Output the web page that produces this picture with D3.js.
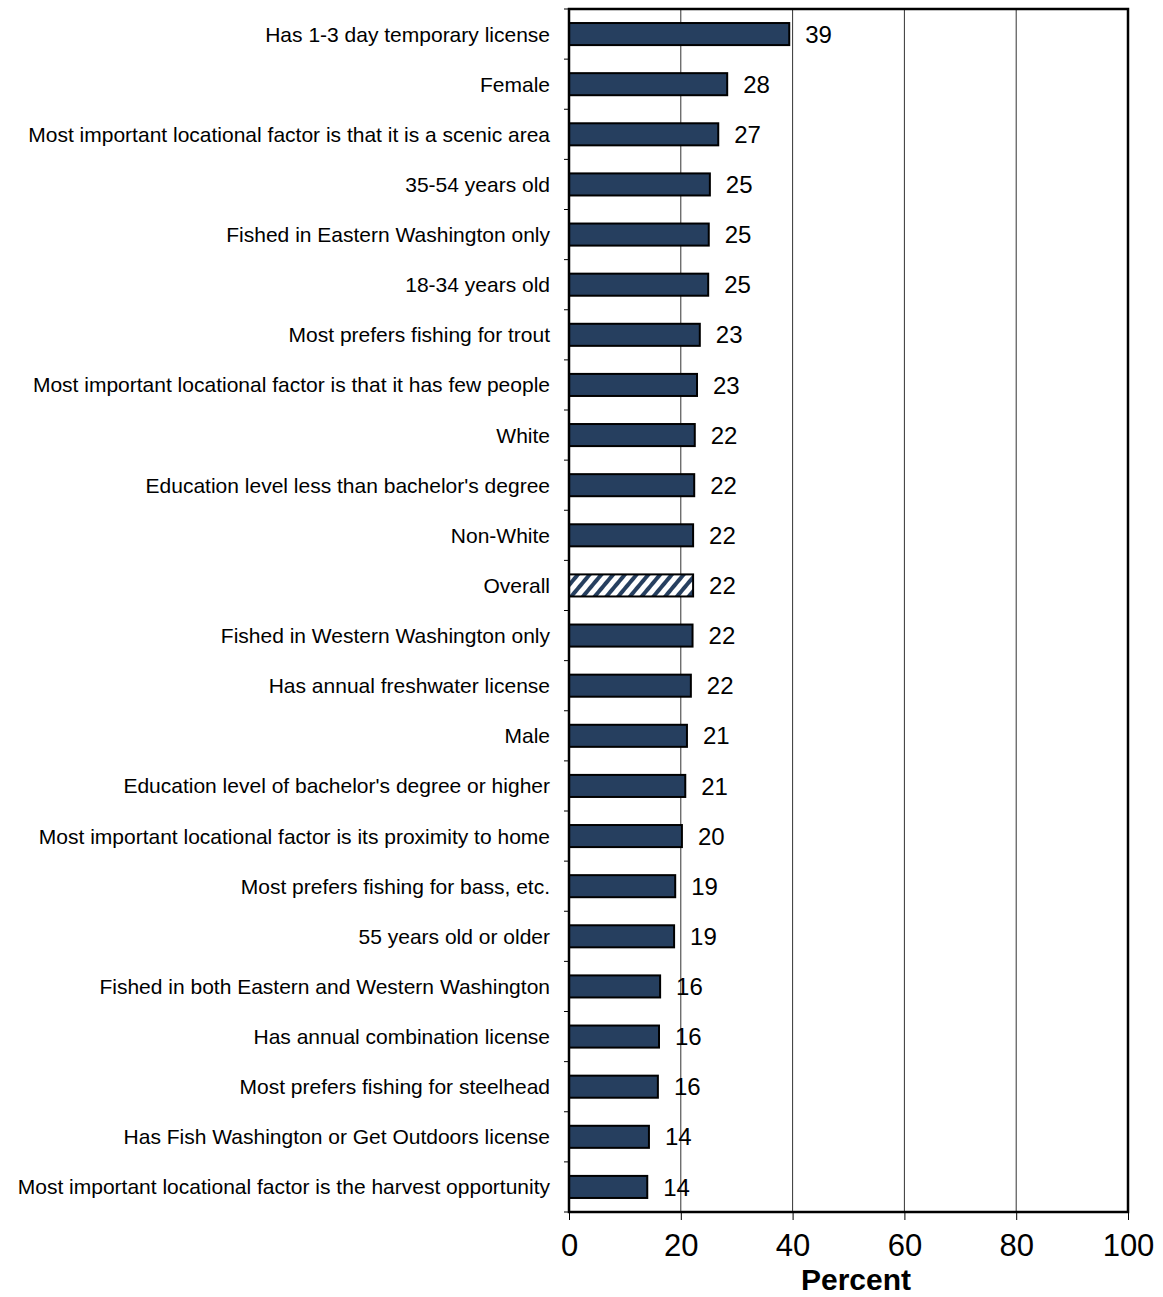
<!DOCTYPE html>
<html><head><meta charset="utf-8">
<script src="https://cdn.jsdelivr.net/npm/d3@7"></script>
<style>body{margin:0;background:#fff;}svg{display:block;font-family:"Liberation Sans",Arial,sans-serif;}</style>
</head><body><svg id="c" width="1163" height="1297"></svg>
<script>
const categories = [
"Has 1-3 day temporary license","Female","Most important locational factor is that it is a scenic area",
"35-54 years old","Fished in Eastern Washington only","18-34 years old","Most prefers fishing for trout",
"Most important locational factor is that it has few people","White","Education level less than bachelor's degree",
"Non-White","Overall","Fished in Western Washington only","Has annual freshwater license","Male",
"Education level of bachelor's degree or higher","Most important locational factor is its proximity to home",
"Most prefers fishing for bass, etc.","55 years old or older","Fished in both Eastern and Western Washington",
"Has annual combination license","Most prefers fishing for steelhead","Has Fish Washington or Get Outdoors license",
"Most important locational factor is the harvest opportunity"];
const values = [39.4,28.3,26.7,25.2,25.0,24.9,23.4,22.9,22.5,22.4,22.2,22.2,22.1,21.8,21.1,20.8,20.2,19.0,18.8,16.3,16.1,15.9,14.3,14.0];
const valueLabels = [39,28,27,25,25,25,23,23,22,22,22,22,22,22,21,21,20,19,19,16,16,16,14,14];
const xTicks = [0,20,40,60,80,100];
const highlight = "Overall";

const svg = d3.select("#c");
const L=569, R=1128, T=9, B=1212;
const x = d3.scaleLinear().domain([0,100]).range([L,R]);
const y = d3.scaleBand().domain(categories).range([T,B]).paddingInner(0.56).paddingOuter(0.28);

const defs = svg.append("defs");
const pat = defs.append("pattern").attr("id","hatch").attr("patternUnits","userSpaceOnUse")
  .attr("width",9).attr("height",9).attr("patternTransform","rotate(40)");
pat.append("rect").attr("width",9).attr("height",9).attr("fill","#fff");
pat.append("rect").attr("width",4).attr("height",9).attr("fill","#263f5f");

// gridlines
svg.append("g").selectAll("line").data(xTicks.slice(1,-1)).join("line")
  .attr("x1",d=>x(d)).attr("x2",d=>x(d)).attr("y1",T).attr("y2",B)
  .attr("stroke","#333").attr("stroke-width",1);

// bars
svg.append("g").selectAll("rect").data(categories).join("rect")
  .attr("x",x(0)).attr("y",d=>y(d)).attr("height",y.bandwidth())
  .attr("width",(d,i)=>x(values[i])-x(0))
  .attr("fill",d=>d===highlight?"url(#hatch)":"#263f5f")
  .attr("stroke","#000").attr("stroke-width",2);

// value labels
svg.append("g").selectAll("text").data(categories).join("text")
  .attr("x",(d,i)=>x(values[i])+16).attr("y",d=>y(d)+y.bandwidth()/2)
  .attr("dy","0.36em").attr("font-size",24).text((d,i)=>valueLabels[i]);

// plot frame
svg.append("rect").attr("x",L).attr("y",T).attr("width",R-L).attr("height",B-T)
  .attr("fill","none").attr("stroke","#000").attr("stroke-width",2.5);

// y axis ticks & labels
const step = (B-T)/categories.length;
const yBounds = d3.range(categories.length+1).map(i=>T+i*step);
svg.append("g").selectAll("line").data(yBounds).join("line")
  .attr("x1",L-5).attr("x2",L).attr("y1",d=>d).attr("y2",d=>d).attr("stroke","#000").attr("stroke-width",1);
svg.append("g").selectAll("text").data(categories).join("text")
  .attr("x",550).attr("y",d=>y(d)+y.bandwidth()/2).attr("dy","0.36em")
  .attr("text-anchor","end").attr("font-size",21).text(d=>d);

// x axis
const xAxis = d3.axisBottom(x).tickValues(xTicks).tickSize(8).tickPadding(14).tickFormat(d3.format("d"));
const gx = svg.append("g").attr("transform",`translate(0,${B})`).call(xAxis);
gx.select(".domain").remove();
gx.selectAll(".tick line").attr("stroke","#000");
gx.selectAll(".tick text").attr("font-size",31).attr("font-family","Liberation Sans, Arial, sans-serif").attr("fill","#000");
svg.append("text").attr("x",856).attr("y",1290).attr("text-anchor","middle")
  .attr("font-size",30).attr("font-weight","bold").text("Percent");
</script></body></html>
